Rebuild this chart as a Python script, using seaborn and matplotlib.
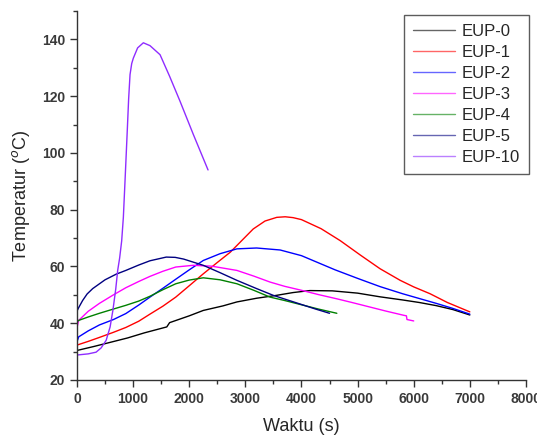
import matplotlib
matplotlib.use('Agg')
import matplotlib.pyplot as plt
from matplotlib.ticker import MultipleLocator
import pandas as pd
import seaborn as sns

#=====DATA=====
t_eup0 = [0, 300, 600, 900, 1200, 1600, 1650, 2000, 2250, 2600, 2850, 3200, 3550, 3850, 4150, 4550, 5000, 5400, 5800, 6100, 6400, 6700, 7000]
T_eup0 = [30.4, 31.8, 33.3, 34.8, 36.6, 38.7, 40.2, 42.6, 44.5, 46.1, 47.5, 48.8, 49.8, 50.8, 51.5, 51.4, 50.6, 49.3, 48.2, 47.3, 46.2, 44.8, 42.9]

t_eup1 = [0, 200, 400, 650, 870, 1100, 1300, 1530, 1760, 2000, 2250, 2500, 2730, 2950, 3140, 3350, 3560, 3710, 3850, 4000, 4350, 4690, 5050, 5400, 5760, 6000, 6290, 6600, 7000]
T_eup1 = [32.3, 33.6, 35.0, 36.8, 38.5, 40.7, 43.2, 46.0, 49.2, 53.2, 57.4, 61.4, 65.0, 69.4, 73.2, 76.0, 77.3, 77.5, 77.2, 76.5, 73.3, 69.1, 64.0, 59.2, 55.1, 52.8, 50.4, 47.3, 44.0]

t_eup2 = [0, 30, 200, 400, 650, 870, 1100, 1300, 1530, 1760, 2000, 2250, 2550, 2850, 3200, 3620, 4000, 4300, 4600, 5000, 5400, 5800, 6100, 6400, 6700, 7000]
T_eup2 = [33.5, 35.2, 37.3, 39.4, 41.3, 43.4, 46.4, 49.2, 52.3, 55.5, 58.8, 62.1, 64.5, 66.2, 66.5, 65.8, 63.8, 61.3, 58.8, 55.8, 52.9, 50.4, 48.7, 47.0, 45.2, 43.2]

t_eup3 = [0, 30, 200, 400, 650, 870, 1100, 1300, 1530, 1760, 2070, 2400, 2850, 3150, 3440, 3700, 4000, 4300, 4630, 4900, 5200, 5500, 5820, 5870, 5880, 6000]
T_eup3 = [38.5, 41.0, 44.2, 47.0, 50.0, 52.5, 54.7, 56.5, 58.3, 59.8, 60.4, 60.1, 58.6, 56.6, 54.5, 53.0, 51.6, 50.1, 48.6, 47.3, 45.8, 44.3, 42.8, 42.6, 41.3, 40.8]

t_eup4 = [0, 30, 200, 400, 650, 870, 1100, 1300, 1530, 1760, 2000, 2250, 2550, 2850, 3150, 3440, 3700, 3900, 4300, 4630]
T_eup4 = [40.5, 41.0, 42.2, 43.5, 45.0, 46.3, 47.8, 49.5, 51.8, 53.9, 55.2, 56.0, 55.3, 53.9, 51.6, 49.2, 48.0, 47.0, 45.0, 43.5]

t_eup5 = [0, 5, 30, 100, 180, 280, 500, 700, 870, 1100, 1300, 1590, 1750, 1900, 2250, 2550, 2850, 3200, 3500, 4000, 4250, 4500]
T_eup5 = [39.5, 44.5, 45.5, 48.0, 50.3, 52.2, 55.3, 57.3, 58.6, 60.5, 62.0, 63.3, 63.2, 62.6, 60.4, 57.8, 55.1, 52.2, 49.8, 46.6, 45.0, 43.5]

t_eup10 = [0, 200, 340, 430, 520, 590, 640, 690, 725, 760, 796, 826, 860, 898, 920, 945, 975, 1004, 1080, 1182, 1300, 1480, 1650, 1836, 2073, 2335]
T_eup10 = [28.8, 29.2, 29.8, 31.3, 34.0, 38.7, 44.6, 52.0, 58.6, 63.0, 69.0, 77.3, 92.0, 108.9, 119.0, 127.6, 131.5, 133.4, 137.0, 138.8, 137.8, 134.6, 127.0, 118.2, 106.5, 94.0]

labels = ["EUP-0", "EUP-1", "EUP-2", "EUP-3", "EUP-4", "EUP-5", "EUP-10"]
colors = ["#000000", "#ff0000", "#0000ff", "#ff00ff", "#008000", "#000080", "#8f2cff"]
series = [(t_eup0, T_eup0), (t_eup1, T_eup1), (t_eup2, T_eup2), (t_eup3, T_eup3),
          (t_eup4, T_eup4), (t_eup5, T_eup5), (t_eup10, T_eup10)]

#=====STYLE=====
sns.set_style("ticks")
plt.rcParams['font.family'] = ['Liberation Sans', 'DejaVu Sans']

fig = plt.figure(figsize=(5.37, 4.40), dpi=100)
ax = fig.add_axes([0.1434, 0.1364, 0.836, 0.8386])

#=====PLOT=====
for (t, T), lab, c in zip(series, labels, colors):
	df = pd.DataFrame({"Waktu": t, "Temp": T})
	sns.lineplot(data=df, x="Waktu", y="Temp", ax=ax, color=c, label=lab,
		sort=False, estimator=None, linewidth=1.0)

ax.set_xlim(0, 8000)
ax.set_ylim(20, 150)
ax.xaxis.set_major_locator(MultipleLocator(1000))
ax.xaxis.set_minor_locator(MultipleLocator(500))
ax.yaxis.set_minor_locator(MultipleLocator(10))
ax.set_yticks([20, 40, 60, 80, 100, 120, 140])
sns.despine(ax=ax)
for s in ["left", "bottom"]:
	ax.spines[s].set_color("#333333")
	ax.spines[s].set_linewidth(1.0)
ax.tick_params(which="major", direction="out", length=5, width=1, color="#333333",
	labelsize=10, labelcolor="#3a3a3a")
ax.tick_params(which="minor", direction="out", length=3, width=1, color="#333333")
for lbl in ax.get_xticklabels() + ax.get_yticklabels():
	lbl.set_fontweight("bold")

ax.set_xlabel("Waktu (s)", fontsize=13, labelpad=9)
ax.set_ylabel("Temperatur ($^{o}$C)", fontsize=13, labelpad=7)

leg = ax.legend(loc="upper right", bbox_to_anchor=(529 / 537, 1 - 15 / 440),
	bbox_transform=fig.transFigure, frameon=True, fancybox=False, fontsize=12,
	handlelength=2.5, handletextpad=0.4, labelspacing=0.36, borderpad=0.55,
	borderaxespad=0)
leg.get_frame().set_edgecolor("#333333")
leg.get_frame().set_linewidth(1.0)
for line in leg.get_lines():
	line.set_alpha(0.6)

fig.savefig("out.png", dpi=100)
